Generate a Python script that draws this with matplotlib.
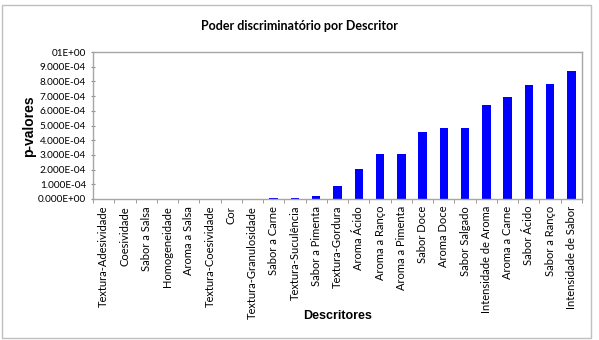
import matplotlib.pyplot as plt
from matplotlib.patches import Rectangle

descritores = ["Textura-Adesividade", "Coesividade", "Sabor a Salsa", "Homogeneidade",
               "Aroma a Salsa", "Textura-Coesividade", "Cor", "Textura-Granulosidade",
               "Sabor a Carne", "Textura-Suculência", "Sabor a Pimenta", "Textura-Gordura",
               "Aroma Ácido", "Aroma a Ranço", "Aroma a Pimenta", "Sabor Doce", "Aroma Doce",
               "Sabor Salgado", "Intensidade de Aroma", "Aroma a Carne", "Sabor Ácido",
               "Sabor a Ranço", "Intensidade de Sabor"]
p_valores = [0.0, 0.0, 0.0, 0.0, 0.0, 0.0, 0.0, 3e-6, 5e-6, 7e-6, 2.2e-5, 9.0e-5,
             2.04e-4, 3.04e-4, 3.04e-4, 4.56e-4, 4.81e-4, 4.85e-4, 6.39e-4, 6.96e-4,
             7.73e-4, 7.82e-4, 8.71e-4]
yticks = [i * 1e-4 for i in range(11)]
ytick_labels = ["0.000E+00"] + ["%d.000E-04" % i for i in range(1, 10)] + ["01E+00"]

fig = plt.figure(figsize=(5.99, 3.4), dpi=100)
fig.patches.append(Rectangle((0.004, 0.006), 0.982, 0.978, transform=fig.transFigure,
                             fill=False, edgecolor="#bfbfbf", linewidth=1))
ax = fig.add_axes([93 / 599, 1 - 199 / 340, 489 / 599, 147 / 340])

x = range(len(descritores))
ax.bar(x, p_valores, width=0.4, color="#0000ff")
ax.set_xlim(-0.5, len(descritores) - 0.5)
ax.set_ylim(0, 1e-3)
ax.set_yticks(yticks)
ax.set_yticklabels(ytick_labels, fontsize=7.2, family="Lato")
ax.set_xticks(list(x))
ax.set_xticklabels(descritores, rotation=90, fontsize=8, family="Lato")
ax.set_xticks([i - 0.5 for i in range(len(descritores) + 1)], minor=True)
ax.tick_params(axis="x", which="major", length=0, pad=5)
ax.tick_params(axis="x", which="minor", length=3, color="#8c8c8c")
ax.tick_params(axis="y", length=3, color="#8c8c8c", direction="inout")
for s in ax.spines.values():
    s.set_color("#a6a6a6")
    s.set_linewidth(1)

fig.text(29 / 599, 1 - 126 / 340, "p-valores", rotation=90, ha="center", va="center",
         fontsize=10, fontweight="bold", family="Liberation Sans")
fig.text(338 / 599, 1 - 316 / 340, "Descritores", ha="center", va="center",
         fontsize=9, fontweight="bold", family="Liberation Sans")
fig.text(0.5, 1 - 26 / 340, "Poder discriminatório por Descritor", ha="center",
         va="center", fontsize=9, fontweight="bold", family="Lato")

fig.savefig("out.png", dpi=100)
